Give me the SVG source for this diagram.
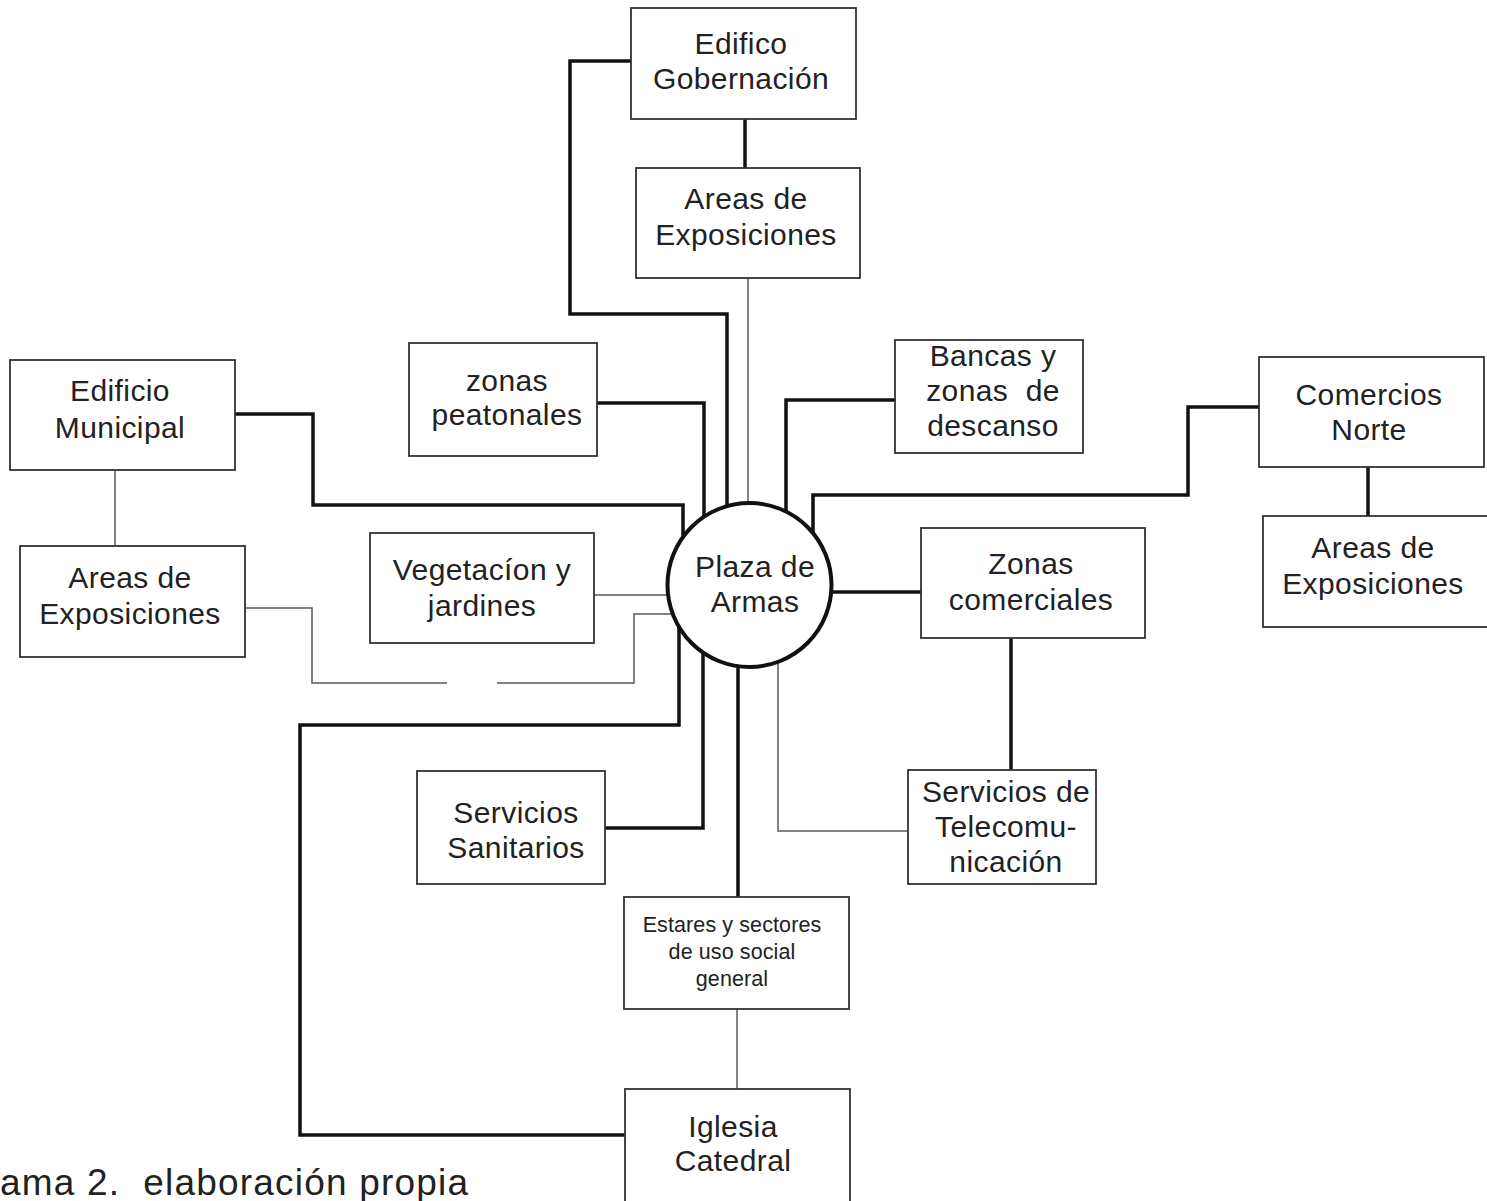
<svg xmlns="http://www.w3.org/2000/svg" width="1487" height="1201" viewBox="0 0 1487 1201">
<style>
.box{fill:#fff;stroke:#333;stroke-width:1.8}
.t{font-family:"Liberation Sans",Arial,sans-serif;font-size:30px;fill:#222;text-anchor:middle;letter-spacing:0.4px}
.s{font-size:21.5px;letter-spacing:0.1px}
.thick{fill:none;stroke:#111;stroke-width:3.5}
.thin{fill:none;stroke:#5a5a5a;stroke-width:1.5}
</style>
<rect width="1487" height="1201" fill="#fff"/>
<g id="connectors">
<polyline class="thick" points="631,61 570,61 570,314 727,314 727,507"/>
<line class="thick" x1="745" y1="119" x2="745" y2="168"/>
<line class="thin" x1="748" y1="278" x2="748" y2="503"/>
<polyline class="thick" points="597,403 704,403 704,518"/>
<polyline class="thick" points="895,400 786,400 786,513"/>
<polyline class="thick" points="1259,407 1188,407 1188,495 813,495 813,534"/>
<line class="thick" x1="1368" y1="467" x2="1368" y2="516"/>
<polyline class="thick" points="235,414 313,414 313,505 683,505 683,538"/>
<line class="thick" x1="831" y1="592" x2="921" y2="592"/>
<line class="thick" x1="1011" y1="638" x2="1011" y2="770"/>
<polyline class="thick" points="605,828 703,828 703,652"/>
<polyline class="thick" points="625,1135 300,1135 300,725 679,725 679,626"/>
<line class="thick" x1="738" y1="666" x2="738" y2="897"/>
<line class="thin" x1="115" y1="470" x2="115" y2="546"/>
<polyline class="thin" points="245,608 312,608 312,683 447,683"/>
<polyline class="thin" points="497,683 634,683 634,614 673,614"/>
<line class="thin" x1="594" y1="595" x2="668" y2="595"/>
<polyline class="thin" points="778,662 778,831 908,831"/>
<line class="thin" x1="737" y1="1009" x2="737" y2="1089"/>
</g>
<g id="plaza">
<circle cx="749.5" cy="585" r="82" fill="#fff" stroke="#111" stroke-width="4"/>
<text class="t" x="755" y="577">Plaza de</text>
<text class="t" x="755" y="612">Armas</text>
</g>
<g id="edifico-gobernacion">
<rect class="box" x="631" y="8" width="225" height="111"/>
<text class="t" x="741" y="54">Edifico</text>
<text class="t" x="741" y="89">Gobernación</text>
</g>
<g id="areas-top">
<rect class="box" x="636" y="168" width="224" height="110"/>
<text class="t" x="746" y="209">Areas de</text>
<text class="t" x="746" y="245">Exposiciones</text>
</g>
<g id="zonas-peatonales">
<rect class="box" x="409" y="343" width="188" height="113"/>
<text class="t" x="507" y="391">zonas</text>
<text class="t" x="507" y="425">peatonales</text>
</g>
<g id="bancas">
<rect class="box" x="895" y="340" width="188" height="113"/>
<text class="t" x="993" y="366">Bancas y</text>
<text class="t" x="993" y="401" xml:space="preserve">zonas  de</text>
<text class="t" x="993" y="436">descanso</text>
</g>
<g id="edificio-municipal">
<rect class="box" x="10" y="360" width="225" height="110"/>
<text class="t" x="120" y="401">Edificio</text>
<text class="t" x="120" y="438">Municipal</text>
</g>
<g id="comercios-norte">
<rect class="box" x="1259" y="357" width="225" height="110"/>
<text class="t" x="1369" y="405">Comercios</text>
<text class="t" x="1369" y="440">Norte</text>
</g>
<g id="areas-right">
<rect class="box" x="1263" y="516" width="230" height="111"/>
<text class="t" x="1373" y="558">Areas de</text>
<text class="t" x="1373" y="594">Exposiciones</text>
</g>
<g id="areas-left">
<rect class="box" x="20" y="546" width="225" height="111"/>
<text class="t" x="130" y="588">Areas de</text>
<text class="t" x="130" y="624">Exposiciones</text>
</g>
<g id="vegetacion">
<rect class="box" x="370" y="533" width="224" height="110"/>
<text class="t" x="482" y="580">Vegetacíon y</text>
<text class="t" x="482" y="616">jardines</text>
</g>
<g id="zonas-comerciales">
<rect class="box" x="921" y="528" width="224" height="110"/>
<text class="t" x="1031" y="574">Zonas</text>
<text class="t" x="1031" y="610">comerciales</text>
</g>
<g id="servicios-sanitarios">
<rect class="box" x="417" y="771" width="188" height="113"/>
<text class="t" x="516" y="823">Servicios</text>
<text class="t" x="516" y="858">Sanitarios</text>
</g>
<g id="telecom">
<rect class="box" x="908" y="770" width="188" height="114"/>
<text class="t" x="1006" y="802">Servicios de</text>
<text class="t" x="1006" y="837">Telecomu-</text>
<text class="t" x="1006" y="872">nicación</text>
</g>
<g id="estares">
<rect class="box" x="624" y="897" width="225" height="112"/>
<text class="t s" x="732" y="932">Estares y sectores</text>
<text class="t s" x="732" y="959">de uso social</text>
<text class="t s" x="732" y="986">general</text>
</g>
<g id="iglesia">
<rect class="box" x="625" y="1089" width="225" height="115"/>
<text class="t" x="733" y="1137">Iglesia</text>
<text class="t" x="733" y="1171">Catedral</text>
</g>
<text class="t" x="0" y="1195" style="text-anchor:start;font-size:37px;letter-spacing:0" textLength="468" lengthAdjust="spacing" xml:space="preserve">ama 2.  elaboración propia</text>
</svg>
